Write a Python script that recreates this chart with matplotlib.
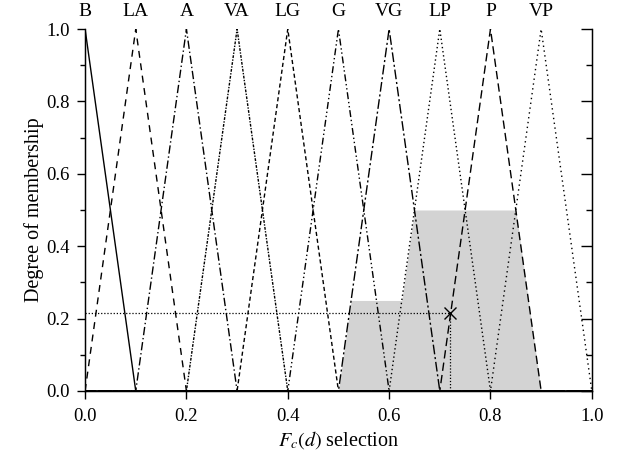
import numpy as np
import matplotlib
matplotlib.use("Agg")
from matplotlib import pyplot as plt
from matplotlib.ticker import MultipleLocator

plt.rcParams["font.family"] = ["Liberation Serif", "DejaVu Serif"]
plt.rcParams["mathtext.fontset"] = "stix"

# fuzzy sets: name, peak location
set_names = ["B", "LA", "A", "VA", "LG", "G", "VG", "LP", "P", "VP"]
set_peaks = [0.0, 0.1, 0.2, 0.3, 0.4, 0.5, 0.6, 0.7, 0.8, 0.9]
half_width = 0.1

# clipped (activated) sets and their levels
active_sets = ["VG", "LP", "P"]
active_levels = [0.25, 0.5, 0.5]

# centroid of the aggregated output
centroid_x = 0.72
centroid_y = 0.215

styles = {
    "B": "-",
    "LA": (0, (5, 4)),
    "A": (0, (6, 2, 1, 2)),
    "VA": (0, (2, 1, 1, 1)),
    "LG": (0, (3, 2)),
    "G": (0, (5, 2, 1, 2, 1, 2)),
    "VG": (0, (7, 2, 1.5, 2)),
    "LP": (0, (1, 2)),
    "P": (0, (6, 3)),
    "VP": (0, (1, 2.5)),
}


def tri(x, c, w):
    return np.clip(1 - np.abs(x - c) / w, 0, 1)


x = np.linspace(0, 1, 2001)

fig = plt.figure(figsize=(6.21, 4.61), dpi=100)
ax = fig.add_axes([0.137, 0.152, 0.816, 0.785])

# aggregated shaded area
agg = np.zeros_like(x)
for name, lvl in zip(active_sets, active_levels):
    c = set_peaks[set_names.index(name)]
    agg = np.maximum(agg, np.minimum(tri(x, c, half_width), lvl))
ax.fill_between(x, 0, agg, color="#d3d3d3", lw=0, zorder=1)

for name, c in zip(set_names, set_peaks):
    ax.plot(x, tri(x, c, half_width), color="black", lw=1.0,
            linestyle=styles[name], zorder=2)
    ax.text(c, 1.036, name, transform=ax.get_xaxis_transform(),
            ha="center", va="baseline", fontsize=14)

ax.plot([0, centroid_x], [centroid_y, centroid_y], color="black", lw=0.9,
        linestyle=(0, (1, 1.5)), zorder=3)
ax.plot([centroid_x, centroid_x], [0, centroid_y], color="black", lw=0.9,
        linestyle=(0, (1, 1.5)), zorder=3)
ax.plot([centroid_x], [centroid_y], marker="x", color="black", ms=8,
        mew=1.0, zorder=4)

ax.set_xlim(0, 1)
ax.set_ylim(0, 1)
ax.xaxis.set_major_locator(MultipleLocator(0.2))
ax.yaxis.set_major_locator(MultipleLocator(0.2))
ax.yaxis.set_minor_locator(MultipleLocator(0.1))
ax.xaxis.set_major_formatter(lambda v, p: f"{v:.1f}")
ax.yaxis.set_major_formatter(lambda v, p: f"{v:.1f}")
ax.tick_params(axis="both", which="major", direction="out", length=6,
               width=1, labelsize=13.5)
ax.tick_params(axis="x", which="major", pad=6)
ax.tick_params(axis="y", which="major", pad=5)
ax.tick_params(axis="y", which="minor", direction="out", length=3.5, width=1)
ax.spines["top"].set_visible(False)
for s in ["left", "right", "bottom"]:
    ax.spines[s].set_linewidth(1.0)

ax2 = ax.twinx()
ax2.set_ylim(0, 1)
ax2.yaxis.set_major_locator(MultipleLocator(0.2))
ax2.yaxis.set_minor_locator(MultipleLocator(0.1))
ax2.tick_params(axis="y", which="major", direction="in", length=8, width=1,
                labelright=False)
ax2.tick_params(axis="y", which="minor", direction="in", length=4, width=1)
ax2.spines["top"].set_visible(False)

ax.set_xlabel(r"$F_c(d)$ selection", fontsize=14.5, labelpad=3)
ax.set_ylabel("Degree of membership", fontsize=14.5, labelpad=2)

plt.savefig("out.png", dpi=100)
